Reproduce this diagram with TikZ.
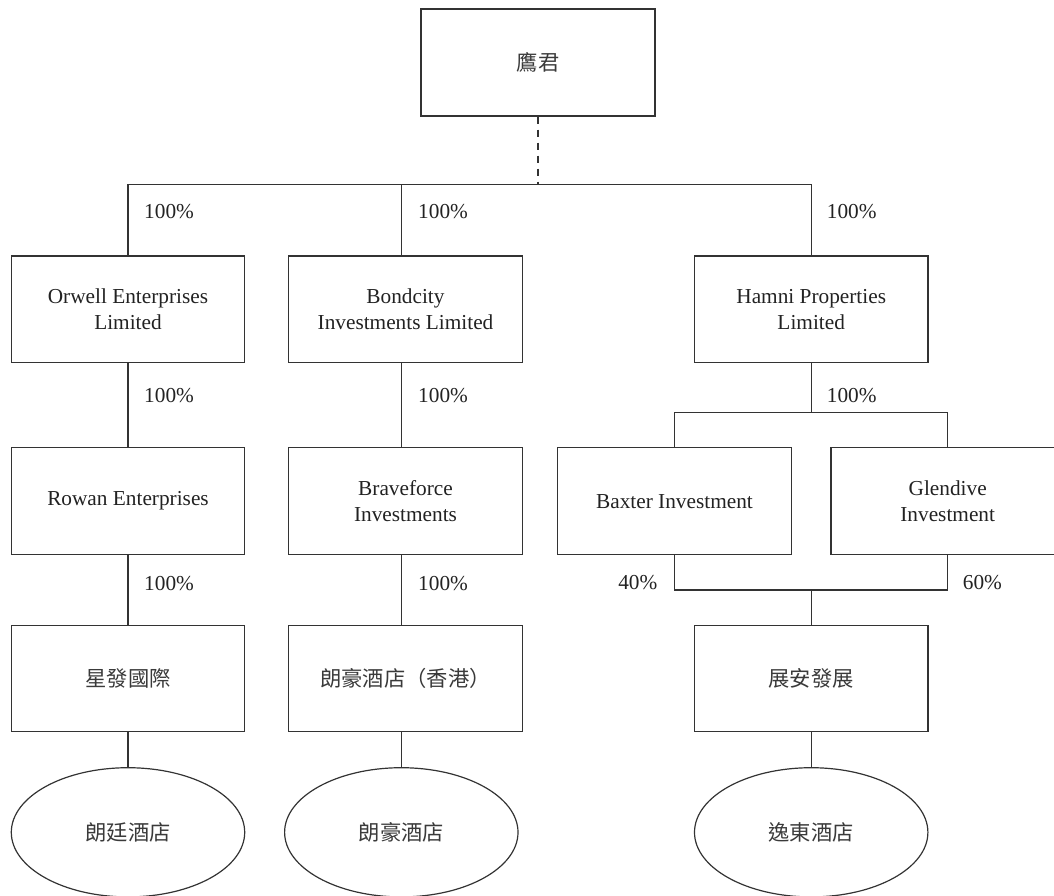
\documentclass[tikz,border=0pt]{standalone}
\usepackage{fontspec}
\setmainfont{Liberation Serif}
\newfontfamily\cjk{Noto Sans CJK TC}
\usetikzlibrary{shapes.geometric}
\definecolor{linec}{HTML}{333333}
\definecolor{textc}{HTML}{222222}
\definecolor{cjkc}{HTML}{3A3A3A}
\tikzset{
  box/.style={draw=linec, line width=1.2pt, rectangle, minimum width=233.4pt, minimum height=106.7pt, inner sep=0pt, align=center, text=textc, font=\fontsize{21.3}{26.5}\selectfont},
  cjkbox/.style={box, text=cjkc},
  topbox/.style={cjkbox, minimum width=234pt, minimum height=107pt},
  hotel/.style={draw=linec, line width=1.2pt, ellipse, minimum width=233.4pt, minimum height=129.2pt, inner sep=0pt, text=cjkc, font=\fontsize{21.3}{26.5}\selectfont},
  conn/.style={draw=linec, line width=1.2pt},
  dashconn/.style={draw=linec, line width=1.2pt, dash pattern=on 7pt off 6pt},
  pct/.style={inner sep=0pt, text=textc, font=\fontsize{21.3}{26.5}\selectfont}
}
\begin{document}
\begin{tikzpicture}[x=1pt,y=-1pt]
\useasboundingbox (0,0) rectangle (1054,895);
% boxes
\node[topbox] (top) at (538,62.5) {\cjk 鷹君};
\node[box] (orwell) at (128,309.4) {Orwell Enterprises\\Limited};
\node[box] (bond) at (405.5,309.4) {Bondcity\\Investments Limited};
\node[box] (hamni) at (811.2,309.4) {Hamni Properties\\Limited};
\node[box] (rowan) at (128,501.2) {Rowan Enterprises};
\node[box] (brave) at (405.5,501.2) {Braveforce\\Investments};
\node[box] (baxter) at (674.5,501.2) {Baxter Investment};
\node[box] (glen) at (947.7,501.2) {Glendive\\Investment};
\node[cjkbox] (xing) at (128,678.5) {\cjk 星發國際};
\node[cjkbox] (langhk) at (405.5,678.5) {\cjk 朗豪酒店（香港）};
\node[cjkbox] (zhan) at (811.2,678.5) {\cjk 展安發展};
\node[hotel] (h1) at (128,832.3) {\cjk 朗廷酒店};
\node[hotel] (h2) at (401.3,832.3) {\cjk 朗豪酒店};
\node[hotel] (h3) at (811.2,832.3) {\cjk 逸東酒店};
% bus coordinates
\coordinate (bt) at (538,184.3);
\coordinate (bl) at (128,184.3);
\coordinate (bm) at (401.3,184.3);
\coordinate (br) at (811.2,184.3);
\coordinate (hb) at (811.2,412.7);
\coordinate (hbl) at (674.7,412.7);
\coordinate (hbr) at (947.7,412.7);
\coordinate (lbl) at (674.7,590);
\coordinate (lbr) at (947.7,590);
\coordinate (lbm) at (811.2,590);
% connectors
\draw[dashconn] (top.south) -- (bt);
\draw[conn] (orwell.north) -- (bl) -- (br) -- (hamni.north);
\draw[conn] (bm) -- (bm |- bond.north);
\draw[conn] (orwell.south) -- (rowan.north);
\draw[conn] (rowan.south) -- (xing.north);
\draw[conn] (xing.south) -- (h1.north);
\draw[conn] (bm |- bond.south) -- (bm |- brave.north);
\draw[conn] (bm |- brave.south) -- (bm |- langhk.north);
\draw[conn] (bm |- langhk.south) -- (h2.north);
\draw[conn] (hamni.south) -- (hb);
\draw[conn] (baxter.north -| hbl) -- (hbl) -- (hbr) -- (glen.north -| hbr);
\draw[conn] (baxter.south -| lbl) -- (lbl) -- (lbr) -- (glen.south -| lbr);
\draw[conn] (lbm) -- (zhan.north);
\draw[conn] (zhan.south) -- (h3.north);
% percentages
\node[pct, anchor=west] (p1) at (144,211.7) {100\%};
\node[pct, anchor=west] (p2) at (418,211.7) {100\%};
\node[pct, anchor=west] (p3) at (826.7,211.7) {100\%};
\node[pct, anchor=west] (p4) at (144,395.3) {100\%};
\node[pct, anchor=west] (p5) at (418,395.3) {100\%};
\node[pct, anchor=west] (p6) at (826.7,395.3) {100\%};
\node[pct, anchor=west] (p7) at (144,584) {100\%};
\node[pct, anchor=west] (p8) at (418,584) {100\%};
\node[pct, anchor=east] (p9) at (657.5,583) {40\%};
\node[pct, anchor=west] (p10) at (962.7,583) {60\%};
\end{tikzpicture}
\end{document}
